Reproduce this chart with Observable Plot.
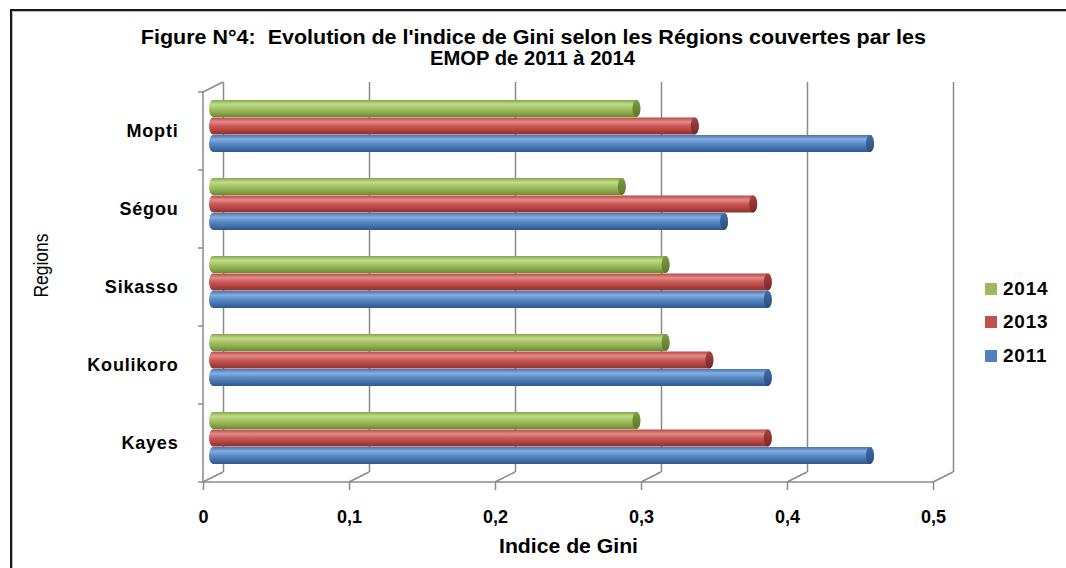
<!DOCTYPE html>
<html>
<head>
<meta charset="utf-8">
<script src="https://cdn.jsdelivr.net/npm/d3@7"></script>
<script src="https://cdn.jsdelivr.net/npm/@observablehq/plot@0.6"></script>
<style>
  html, body { margin: 0; padding: 0; background: #fff; }
  #wrap { position: relative; width: 1066px; height: 568px; overflow: hidden; background: #fff; font-family: "Liberation Sans", Arial, sans-serif; }
  .tline { position: absolute; left: 0; width: 1066px; text-align: center; font-weight: bold; font-size: 20px; line-height: 21px; white-space: pre; color: #000; }
  .tline span { display: inline-block; transform-origin: center center; }
  #chart { position: absolute; left: 0; top: 75px; }
  #border { position: absolute; left: 10px; top: 9px; width: 1200px; height: 700px; border: 2px solid #1a1a1a; box-shadow: inset 1px 1px 0 #bbb; pointer-events: none; }
  .leg { position: absolute; left: 985px; height: 20px; font-weight: bold; font-size: 19px; letter-spacing: 0.8px; line-height: 20px; color: #000; }
  .leg i { position: absolute; left: 0; top: 4px; width: 12px; height: 12px; }
  .leg b { position: absolute; left: 18px; top: 0; }
  #chart g[aria-label="x-axis"] line, #chart g[aria-label="x-axis tick"] path { stroke: #8a8a8a; stroke-width: 1.5; }
  #chart g[aria-label="y-axis"] text, #chart g[aria-label="y-axis tick label"] text { letter-spacing: 0.8px; }
</style>
</head>
<body>
<div id="wrap">
  <div class="tline" style="top:27px"><span id="t1">Figure N°4:  Evolution de l'indice de Gini selon les Régions couvertes par les</span></div>
  <div class="tline" style="top:48px"><span id="t2">EMOP de 2011 à 2014</span></div>
  <div id="chart"></div>
  <div id="legend"></div>
  <div id="border"></div>
</div>
<script>
// ---- data ----
const regions = ["Mopti", "Ségou", "Sikasso", "Koulikoro", "Kayes"];
const years = ["2014", "2013", "2011"];
const gini2014 = [0.29, 0.28, 0.31, 0.31, 0.29];
const gini2013 = [0.33, 0.37, 0.38, 0.34, 0.38];
const gini2011 = [0.45, 0.35, 0.38, 0.38, 0.45];
const xTicks = [0, 0.1, 0.2, 0.3, 0.4, 0.5];
const xTickLabels = ["0", "0,1", "0,2", "0,3", "0,4", "0,5"];
const xLabel = "Indice de Gini";
const yLabel = "Regions";

// ---- styles ----
const seriesStyle = {
  "2014": {base: "#9bbb59", stops: ["#86a64a", "#c2dc8c", "#a4c464", "#8aab4b", "#6a8636"], cap: ["#7f9c45", "#5c7629"]},
  "2013": {base: "#c0504d", stops: ["#b34946", "#e48a87", "#cb5a57", "#b2433f", "#8a302e"], cap: ["#a8423f", "#74292a"]},
  "2011": {base: "#4f81bd", stops: ["#4675ad", "#86aee0", "#5a8bc6", "#4472aa", "#30588c"], cap: ["#3f6ea8", "#2a4d7d"]}
};
const barOffset = {"2014": -22.5, "2013": -5, "2011": 12.5};
const DX = 20, DY = -10; // depth of the 3D box
const gridColor = "#8a8a8a";

const table = [];
regions.forEach((r, i) => {
  table.push({region: r, year: "2014", value: gini2014[i]});
  table.push({region: r, year: "2013", value: gini2013[i]});
  table.push({region: r, year: "2011", value: gini2011[i]});
});

const ns = "http://www.w3.org/2000/svg";
function el(name, attrs) {
  const e = document.createElementNS(ns, name);
  for (const k in attrs) e.setAttribute(k, attrs[k]);
  return e;
}

function defsMark() {
  const defs = el("defs", {});
  for (const y of years) {
    const s = seriesStyle[y];
    const g = el("linearGradient", {id: "g" + y, x1: 0, y1: 0, x2: 0, y2: 1});
    const offs = [0, 0.25, 0.5, 0.75, 1];
    s.stops.forEach((c, i) => g.appendChild(el("stop", {offset: offs[i], "stop-color": c})));
    defs.appendChild(g);
    const c = el("linearGradient", {id: "c" + y, x1: 0, y1: 0, x2: 0, y2: 1});
    c.appendChild(el("stop", {offset: 0, "stop-color": s.cap[0]}));
    c.appendChild(el("stop", {offset: 1, "stop-color": s.cap[1]}));
    defs.appendChild(c);
  }
  return defs;
}

function frameMark(index, scales, values, dims) {
  const g = el("g", {stroke: gridColor, "stroke-width": 1.5, fill: "none"});
  const x = scales.x;
  const yt = dims.marginTop, yb = dims.height - dims.marginBottom;
  const x0 = x(xTicks[0]), x1 = x(xTicks[xTicks.length - 1]);
  const line = (a, b, c, d) => g.appendChild(el("line", {x1: a, y1: b, x2: c, y2: d}));
  line(x0, yt, x0, yb);
  line(x0, yt, x0 + DX, yt + DY);
  line(x0, yb, x1, yb);
  for (const v of xTicks) line(x(v), yb, x(v) + DX, yb + DY);
  const step = (yb - yt) / regions.length;
  for (let i = 0; i <= regions.length; i++) line(x0 - 5, yt + i * step, x0, yt + i * step);
  return g;
}

const barH = 17;
const marks = [defsMark, Plot.ruleX(xTicks, {x: d => d, dx: DX, dy: DY, stroke: gridColor, strokeWidth: 1.5}), frameMark];
for (const y of years) {
  const rows = table.filter(d => d.year === y);
  const inset = (78 - barH) / 2;
  marks.push(Plot.barX(rows, {x1: 0, x2: "value", y: "region", fill: `url(#g${y})`, dx: DX / 2, dy: DY / 2 + barOffset[y] + 5,
    insetTop: inset, insetBottom: inset, insetLeft: -4, insetRight: -4, rx: 4, ry: barH / 2}));
  marks.push(Plot.barX(rows, {x1: "value", x2: "value", y: "region", fill: `url(#c${y})`, dx: DX / 2, dy: DY / 2 + barOffset[y] + 5,
    insetTop: inset, insetBottom: inset, insetLeft: -4, insetRight: -4, rx: 4, ry: barH / 2}));
}
marks.push(Plot.text([xLabel], {frameAnchor: "bottom", dy: 70, text: d => d, fontSize: 20, fontWeight: "bold"}));
marks.push(Plot.text([yLabel], {frameAnchor: "left", dx: -162, dy: 10, rotate: -90, text: d => d, fontSize: 20, fontWeight: "normal"}));

const chart = Plot.plot({
  width: 1066,
  height: 493,
  marginLeft: 203,
  marginRight: 133,
  marginTop: 17,
  marginBottom: 86,
  style: {fontFamily: "'Liberation Sans', Arial, sans-serif", fontSize: "18px", fontWeight: "bold", color: "#000", background: "transparent", overflow: "visible"},
  x: {domain: [0, 0.5], ticks: xTicks, tickFormat: d => xTickLabels[xTicks.indexOf(d)], tickSize: 8, tickPadding: 20, label: null},
  y: {domain: regions, padding: 0, tickSize: 0, tickPadding: 25, label: null},
  marks
});
document.getElementById("chart").appendChild(chart);

// condensed axis titles
chart.querySelectorAll("text").forEach(t => {
  if (t.textContent === xLabel) { t.setAttribute("textLength", 139); t.setAttribute("lengthAdjust", "spacingAndGlyphs"); }
  if (t.textContent === yLabel) { t.setAttribute("textLength", 64); t.setAttribute("lengthAdjust", "spacingAndGlyphs"); }
});

// legend
const leg = document.getElementById("legend");
const legTops = {"2014": 279, "2013": 312, "2011": 346};
for (const y of years) {
  const d = document.createElement("div");
  d.className = "leg";
  d.style.top = legTops[y] + "px";
  d.innerHTML = `<i style="background:${seriesStyle[y].base}"></i><b>${y}</b>`;
  leg.appendChild(d);
}

// fit title widths (condensed look)
function fit(id, w) {
  const s = document.getElementById(id);
  const r = s.getBoundingClientRect().width;
  s.style.transform = `scaleX(${w / r})`;
}
fit("t1", 785);
fit("t2", 205);
</script>
</body>
</html>
